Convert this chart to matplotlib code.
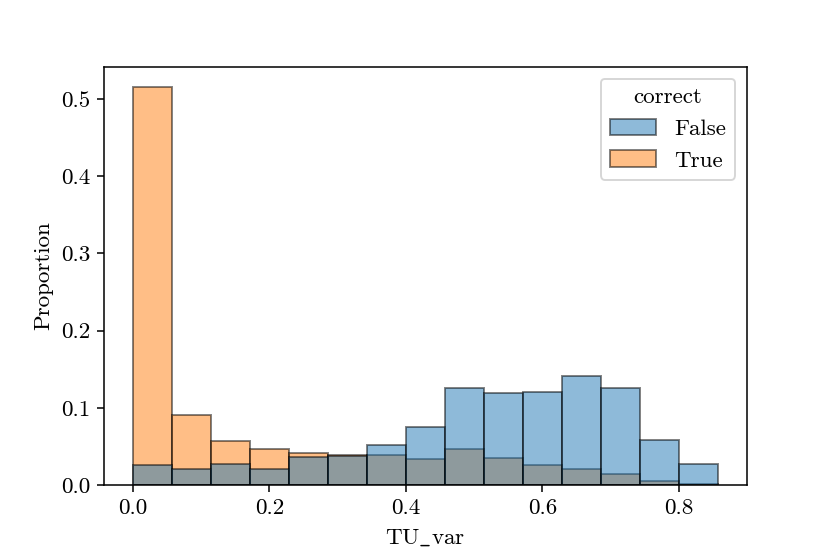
import numpy as np
import matplotlib
matplotlib.use("Agg")
import matplotlib.pyplot as plt

plt.rcParams['font.family'] = 'serif'
plt.rcParams['font.serif'] = ['cmr10', 'DejaVu Serif']
plt.rcParams['mathtext.fontset'] = 'cm'
plt.rcParams['axes.formatter.use_mathtext'] = True
plt.rcParams['font.size'] = 12

# 15 bins from 0 to 6/7
bin_edges = np.linspace(0, 6 / 7, 16)

# proportion per bin, per hue level
prop_false = [0.0258, 0.0207, 0.0275, 0.0207, 0.0366, 0.0375, 0.0517, 0.0750,
              0.1253, 0.1189, 0.1210, 0.1412, 0.1253, 0.0581, 0.0275]
prop_true = [0.5155, 0.0904, 0.0568, 0.0465, 0.0418, 0.0385, 0.0388, 0.0336,
             0.0465, 0.0353, 0.0258, 0.0211, 0.0142, 0.0056, 0.0010]

labels = ['False', 'True']
colors = ['#1f77b4', '#ff7f0e']

fig = plt.figure(figsize=(6, 554 / 138.33), dpi=138.33)
ax = fig.add_axes([0.125, 0.1245, 0.775, 0.7545])

widths = np.diff(bin_edges)
# seaborn draws the last hue level first, so False sits on top
handles = {}
for vals, lab, col in reversed(list(zip([prop_false, prop_true], labels, colors))):
    handles[lab] = ax.bar(bin_edges[:-1], vals, width=widths, align='edge', color=col,
                          edgecolor='black', alpha=0.5, linewidth=1.0, label=lab)

ax.set_ylim(0, max(prop_true) * 1.05)
ax.set_xticks([0.0, 0.2, 0.4, 0.6, 0.8])
ax.set_xticklabels(['0.0', '0.2', '0.4', '0.6', '0.8'])
ax.set_yticks([0.0, 0.1, 0.2, 0.3, 0.4, 0.5])
ax.set_yticklabels(['0.0', '0.1', '0.2', '0.3', '0.4', '0.5'])
ax.set_xlabel(r'$\mathrm{TU\_var}$', labelpad=5)
ax.set_ylabel('Proportion')

ax.legend([handles[l] for l in labels], labels, title='correct', loc='upper right')

fig.savefig('out.png', dpi=138.33)
